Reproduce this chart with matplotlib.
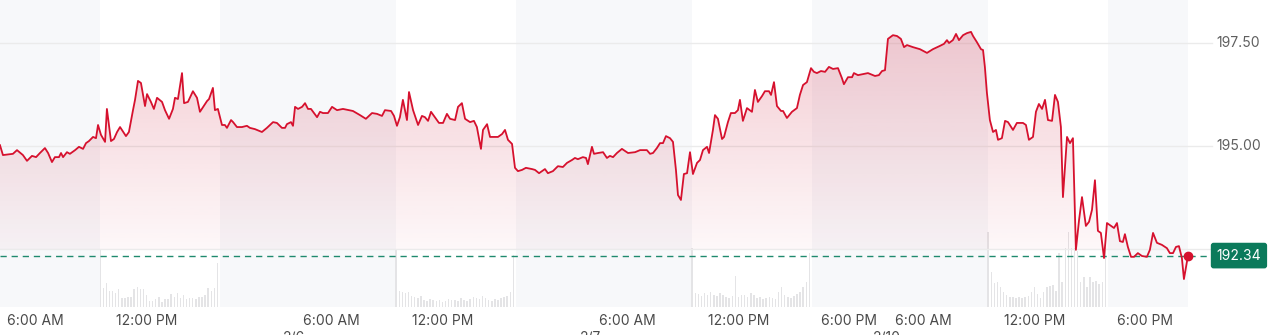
import numpy as np
import matplotlib
matplotlib.use("Agg")
from matplotlib import pyplot as plt
from matplotlib.path import Path
from matplotlib import transforms

plt.rcParams["font.family"] = ["Inter", "DejaVu Sans"]

# Time axis: hours since 4:00 AM of the first day, 16 session hours per day (4 AM - 8 PM)
hours = [
    0.08, 0.24, 0.78, 1.00, 1.32, 1.54, 1.81, 2.03, 2.24, 2.51, 2.68, 2.89, 3.05, 3.27, 3.38,
    3.49, 3.70, 3.86, 4.14, 4.35, 4.57, 4.73, 4.89, 5.11, 5.27, 5.38, 5.54, 5.76, 5.86, 6.08,
    6.24, 6.41, 6.57, 6.89, 7.05, 7.27, 7.38, 7.54, 7.70, 7.92, 8.03, 8.24, 8.40, 8.57, 8.84,
    9.00, 9.22, 9.43, 9.54, 9.70, 9.92, 10.03, 10.24, 10.51, 10.73, 10.89, 11.27, 11.38, 11.59,
    11.70, 11.86, 12.08, 12.24, 12.35, 12.57, 12.68, 12.89, 13.16, 13.43, 13.59, 13.86, 14.24,
    14.51, 14.84, 15.05, 15.32, 15.49, 15.59, 15.81, 15.92, 16.03, 16.19, 16.41, 16.57, 16.73,
    16.89, 17.22, 17.38, 17.54, 17.81, 18.03, 18.30, 18.62, 19.16, 19.54, 19.86, 20.19, 20.46,
    20.73, 20.89, 21.22, 21.38, 21.54, 21.70, 21.86, 22.08, 22.19, 22.41, 22.68, 22.89, 23.05,
    23.22, 23.38, 23.59, 23.81, 24.03, 24.24, 24.41, 24.68, 24.84, 25.05, 25.22, 25.49, 25.70,
    25.86, 26.08, 26.19, 26.41, 26.57, 26.84, 27.00, 27.22, 27.38, 27.54, 27.76, 27.92, 28.08,
    28.30, 28.51, 28.84, 29.00, 29.22, 29.54, 29.70, 29.97, 30.24, 30.51, 30.73, 31.00, 31.16,
    31.32, 31.59, 31.76, 31.86, 32.08, 32.19, 32.41, 32.68, 32.89, 33.05, 33.22, 33.43, 33.70,
    34.03, 34.41, 34.68, 35.05, 35.22, 35.38, 35.59, 35.76, 35.92, 36.08, 36.30, 36.46, 36.62,
    36.73, 36.89, 37.05, 37.22, 37.38, 37.54, 37.76, 37.92, 38.08, 38.30, 38.41, 38.62, 38.73,
    38.89, 39.11, 39.22, 39.43, 39.59, 39.81, 39.97, 40.08, 40.24, 40.46, 40.73, 40.89, 41.05,
    41.27, 41.43, 41.65, 41.76, 41.92, 42.08, 42.30, 42.41, 42.62, 42.89, 43.16, 43.32, 43.49,
    43.70, 43.92, 44.08, 44.24, 44.46, 44.68, 44.89, 45.11, 45.38, 45.59, 45.70, 45.92, 46.14,
    46.24, 46.46, 47.00, 47.38, 47.59, 47.76, 47.92, 48.08, 48.35, 48.57, 48.78, 48.95, 49.11,
    49.43, 49.81, 50.19, 50.51, 50.89, 51.11, 51.27, 51.38, 51.59, 51.76, 51.92, 52.14, 52.35,
    52.57, 52.68, 52.89, 53.11, 53.22, 53.32, 53.43, 53.59, 53.76, 53.92, 54.03, 54.24, 54.41,
    54.57, 54.84, 55.05, 55.38, 55.54, 55.70, 55.92, 56.08, 56.24, 56.41, 56.57, 56.73, 56.95,
    57.11, 57.27, 57.43, 57.54, 57.76, 57.92, 58.08, 58.24, 58.41, 58.57, 58.78, 58.95, 59.11,
    59.27, 59.43, 59.59, 59.76, 59.92, 60.14, 60.30, 60.46, 60.62, 60.78, 60.89, 61.05, 61.22,
    61.38, 61.59, 61.81, 62.08, 62.24, 62.41, 62.62, 62.89, 63.16, 63.32, 63.49, 63.65, 63.81,
    63.97, 64.08, 64.30,
]
prices = [
    195.02, 194.78, 194.81, 194.90, 194.78, 194.64, 194.76, 194.73, 194.83, 194.95, 194.83, 194.61,
    194.73, 194.73, 194.83, 194.73, 194.85, 194.81, 194.90, 194.98, 194.93, 195.07, 195.12, 195.22,
    195.19, 195.51, 195.27, 195.10, 195.90, 195.12, 195.17, 195.34, 195.46, 195.24, 195.34, 195.87,
    196.12, 196.58, 196.53, 195.97, 196.26, 196.07, 195.90, 196.17, 196.07, 195.87, 195.66, 195.90,
    196.17, 196.14, 196.77, 196.04, 196.07, 196.33, 196.17, 195.83, 196.09, 196.14, 196.41, 195.87,
    195.90, 195.51, 195.51, 195.44, 195.63, 195.58, 195.46, 195.46, 195.49, 195.44, 195.41, 195.34,
    195.44, 195.58, 195.56, 195.44, 195.44, 195.53, 195.58, 195.49, 195.95, 195.90, 195.95, 196.04,
    195.90, 195.90, 195.70, 195.83, 195.80, 195.80, 195.95, 195.87, 195.90, 195.85, 195.75, 195.66,
    195.80, 195.78, 195.73, 195.87, 195.85, 195.73, 195.49, 195.70, 196.12, 195.63, 196.31, 195.87,
    195.51, 195.73, 195.70, 195.61, 195.83, 195.70, 195.56, 195.56, 195.78, 195.66, 195.63, 195.95,
    196.04, 195.66, 195.58, 195.61, 195.46, 194.93, 195.39, 195.53, 195.22, 195.22, 195.22, 195.29,
    195.39, 195.15, 195.05, 194.47, 194.39, 194.42, 194.47, 194.44, 194.42, 194.34, 194.44, 194.34,
    194.39, 194.51, 194.49, 194.59, 194.66, 194.71, 194.68, 194.73, 194.71, 194.56, 194.98, 194.81,
    194.83, 194.85, 194.71, 194.76, 194.73, 194.83, 194.93, 194.83, 194.85, 194.90, 194.90, 194.81,
    194.83, 194.95, 195.07, 195.07, 195.24, 195.19, 195.10, 194.42, 193.81, 193.69, 194.32, 194.34,
    194.85, 194.32, 194.59, 194.66, 194.90, 194.98, 194.83, 195.39, 195.75, 195.66, 195.17, 195.22,
    195.58, 195.80, 195.80, 195.87, 196.12, 195.61, 195.92, 195.83, 196.36, 196.07, 196.21, 196.33,
    196.33, 196.24, 196.55, 195.97, 195.85, 195.85, 195.68, 195.83, 195.92, 196.24, 196.48, 196.55,
    196.89, 196.80, 196.77, 196.82, 196.80, 196.92, 196.87, 196.89, 196.65, 196.50, 196.67, 196.67,
    196.77, 196.72, 196.77, 196.70, 196.72, 196.82, 196.84, 197.60, 197.69, 197.67, 197.60, 197.40,
    197.45, 197.40, 197.35, 197.26, 197.35, 197.43, 197.48, 197.57, 197.50, 197.57, 197.72, 197.57,
    197.69, 197.74, 197.77, 197.67, 197.52, 197.35, 197.33, 196.92, 196.29, 195.63, 195.34, 195.39,
    195.15, 195.19, 195.61, 195.58, 195.39, 195.56, 195.56, 195.51, 195.15, 195.22, 195.83, 196.02,
    195.90, 196.12, 195.63, 195.61, 196.24, 196.07, 195.46, 193.76, 195.22, 195.07, 195.19, 192.48,
    193.20, 193.76, 193.06, 193.16, 193.45, 194.17, 192.94, 192.89, 192.28, 193.13, 193.06, 193.01,
    193.13, 192.69, 192.67, 192.86, 192.55, 192.31, 192.31, 192.40, 192.33, 192.31, 192.48, 192.89,
    192.65, 192.60, 192.52, 192.40, 192.40, 192.55, 192.57, 192.28, 191.77, 192.34,
]

# 10-minute volume bars, regular session 9:30 - 16:00 (relative units)
volume_day1 = [570, 190, 240, 160, 160, 140, 180, 90, 90, 100, 105, 180, 200, 180, 180, 120, 60,
               60, 80, 100, 55, 80, 80, 130, 100, 140, 90, 120, 80, 90, 90, 80, 100, 105, 120, 190,
               160, 190, 440]
volume_day2 = [570, 160, 150, 140, 150, 110, 100, 90, 110, 70, 60, 80, 70, 60, 70, 55, 60, 80, 70,
               70, 60, 90, 70, 60, 80, 100, 90, 80, 110, 90, 70, 60, 80, 70, 90, 100, 110, 150, 520]
volume_day3 = [590, 140, 130, 110, 140, 120, 150, 120, 110, 140, 120, 100, 90, 110, 310, 100, 120,
               120, 100, 140, 120, 90, 100, 80, 90, 100, 90, 80, 150, 200, 120, 100, 90, 110, 130,
               150, 200, 250, 540]
volume_day4 = [750, 350, 240, 250, 200, 150, 120, 100, 100, 95, 100, 95, 100, 110, 150, 200, 130,
               90, 150, 200, 210, 220, 160, 540, 250, 590, 750, 590, 590, 560, 250, 300, 200, 300,
               250, 260, 230, 250, 590]
volumes = [volume_day1, volume_day2, volume_day3, volume_day4]

last_price = 192.34
y_ticks = [195.00, 197.50]
grid_levels = [192.50, 195.00, 197.50]
x_ticks = [2, 8, 18, 24, 34, 40, 46, 50, 56, 62]
x_labels = ["6:00 AM", "12:00 PM", "6:00 AM", "12:00 PM", "6:00 AM", "12:00 PM", "6:00 PM",
            "6:00 AM", "12:00 PM", "6:00 PM"]
date_ticks = [16, 32, 48]
date_labels = ["2/6", "2/7", "2/10"]

RED = "#d6112e"
GREEN = "#0b7a5b"
SHADE = "#f7f8fa"

hours = np.array(hours)
prices = np.array(prices)
x_min, x_max = 0.081, 64.3
y_min, y_max = 191.092, 198.544

fig = plt.figure(figsize=(12.68, 3.35), dpi=100)
rect = [0, 28 / 335, 1188 / 1268, 307 / 335]
axv = fig.add_axes(rect)
ax = fig.add_axes(rect, sharex=axv)
ax.patch.set_visible(False)

# Off-session shading: pre-market, and after-hours running into next pre-market
axv.axvspan(0, 5.5, color=SHADE, lw=0, zorder=0)
for d in range(3):
    axv.axvspan(16 * d + 12, 16 * d + 21.5, color=SHADE, lw=0, zorder=0)
axv.axvspan(60, x_max, color=SHADE, lw=0, zorder=0)

# Volume bars
for d, vol in enumerate(volumes):
    t = 16 * d + 5.5 + np.arange(len(vol)) / 6
    axv.bar(t, vol, width=0.08, color="#e4e4e6", lw=0, zorder=1)
axv.set_ylim(0, 3070)
axv.set_xlim(x_min, x_max)
axv.axis("off")

# Gridlines, running past the plot into the label area
blend = transforms.blended_transform_factory(ax.transAxes, ax.transData)
for g in grid_levels:
    ax.plot([0, 1.02], [g, g], color="#ebebeb", lw=1, transform=blend, clip_on=False, zorder=1)

# Gradient fill under the price line
poly = ax.fill_between(hours, prices, 192.5, where=prices >= 192.5, interpolate=True,
                       facecolor="none", edgecolor="none")
clip = Path.make_compound_path(*poly.get_paths())
n = 256
alpha = np.linspace(0.03, 0.22, n)
grad = np.zeros((n, 1, 4))
grad[:, 0, :3] = matplotlib.colors.to_rgb("#cc1030")
grad[:, 0, 3] = alpha
im = ax.imshow(grad, extent=[x_min, x_max, 192.5, 197.9], origin="lower", aspect="auto",
               interpolation="bilinear", zorder=2)
im.set_clip_path(clip, ax.transData)

# Price line and last-price marker
ax.plot(hours, prices, color=RED, lw=1.3, zorder=4, solid_joinstyle="round")
ax.plot(hours[-1], prices[-1], "o", color=RED, ms=6, zorder=5, clip_on=False)
ax.plot([0, 1.02], [last_price, last_price], color="#1f8a6e", lw=1, ls=(0, (4.5, 3.5)),
        transform=blend, clip_on=False, zorder=3)

ax.set_xlim(x_min, x_max)
ax.set_ylim(y_min, y_max)
for s in ax.spines.values():
    s.set_visible(False)
ax.set_yticks([])
ax.set_xticks(x_ticks)
ax.set_xticklabels(x_labels, fontsize=10, color="#4a4a4a")
ax.tick_params(axis="x", length=0, pad=5)

for yt in y_ticks:
    ax.text(1.0235, yt, f"{yt:.2f}", transform=blend, ha="left", va="center",
            fontsize=10, color="#5f5f5f")

ax.text(1.0429, last_price, f"{last_price:.2f}", transform=blend, ha="center", va="center",
        fontsize=10, color="white",
        bbox=dict(boxstyle="round,pad=0.42,rounding_size=0.2", fc=GREEN, ec="none"))

# Date labels sit just below the figure edge, as in the source (only their tops show)
xblend = transforms.blended_transform_factory(ax.transData, ax.transAxes)
for dt, dl in zip(date_ticks, date_labels):
    ax.text(dt, -0.078, dl, transform=xblend, ha="center", va="top", fontsize=10,
            color="#4a4a4a", clip_on=False)

fig.savefig("out.png", dpi=100)
